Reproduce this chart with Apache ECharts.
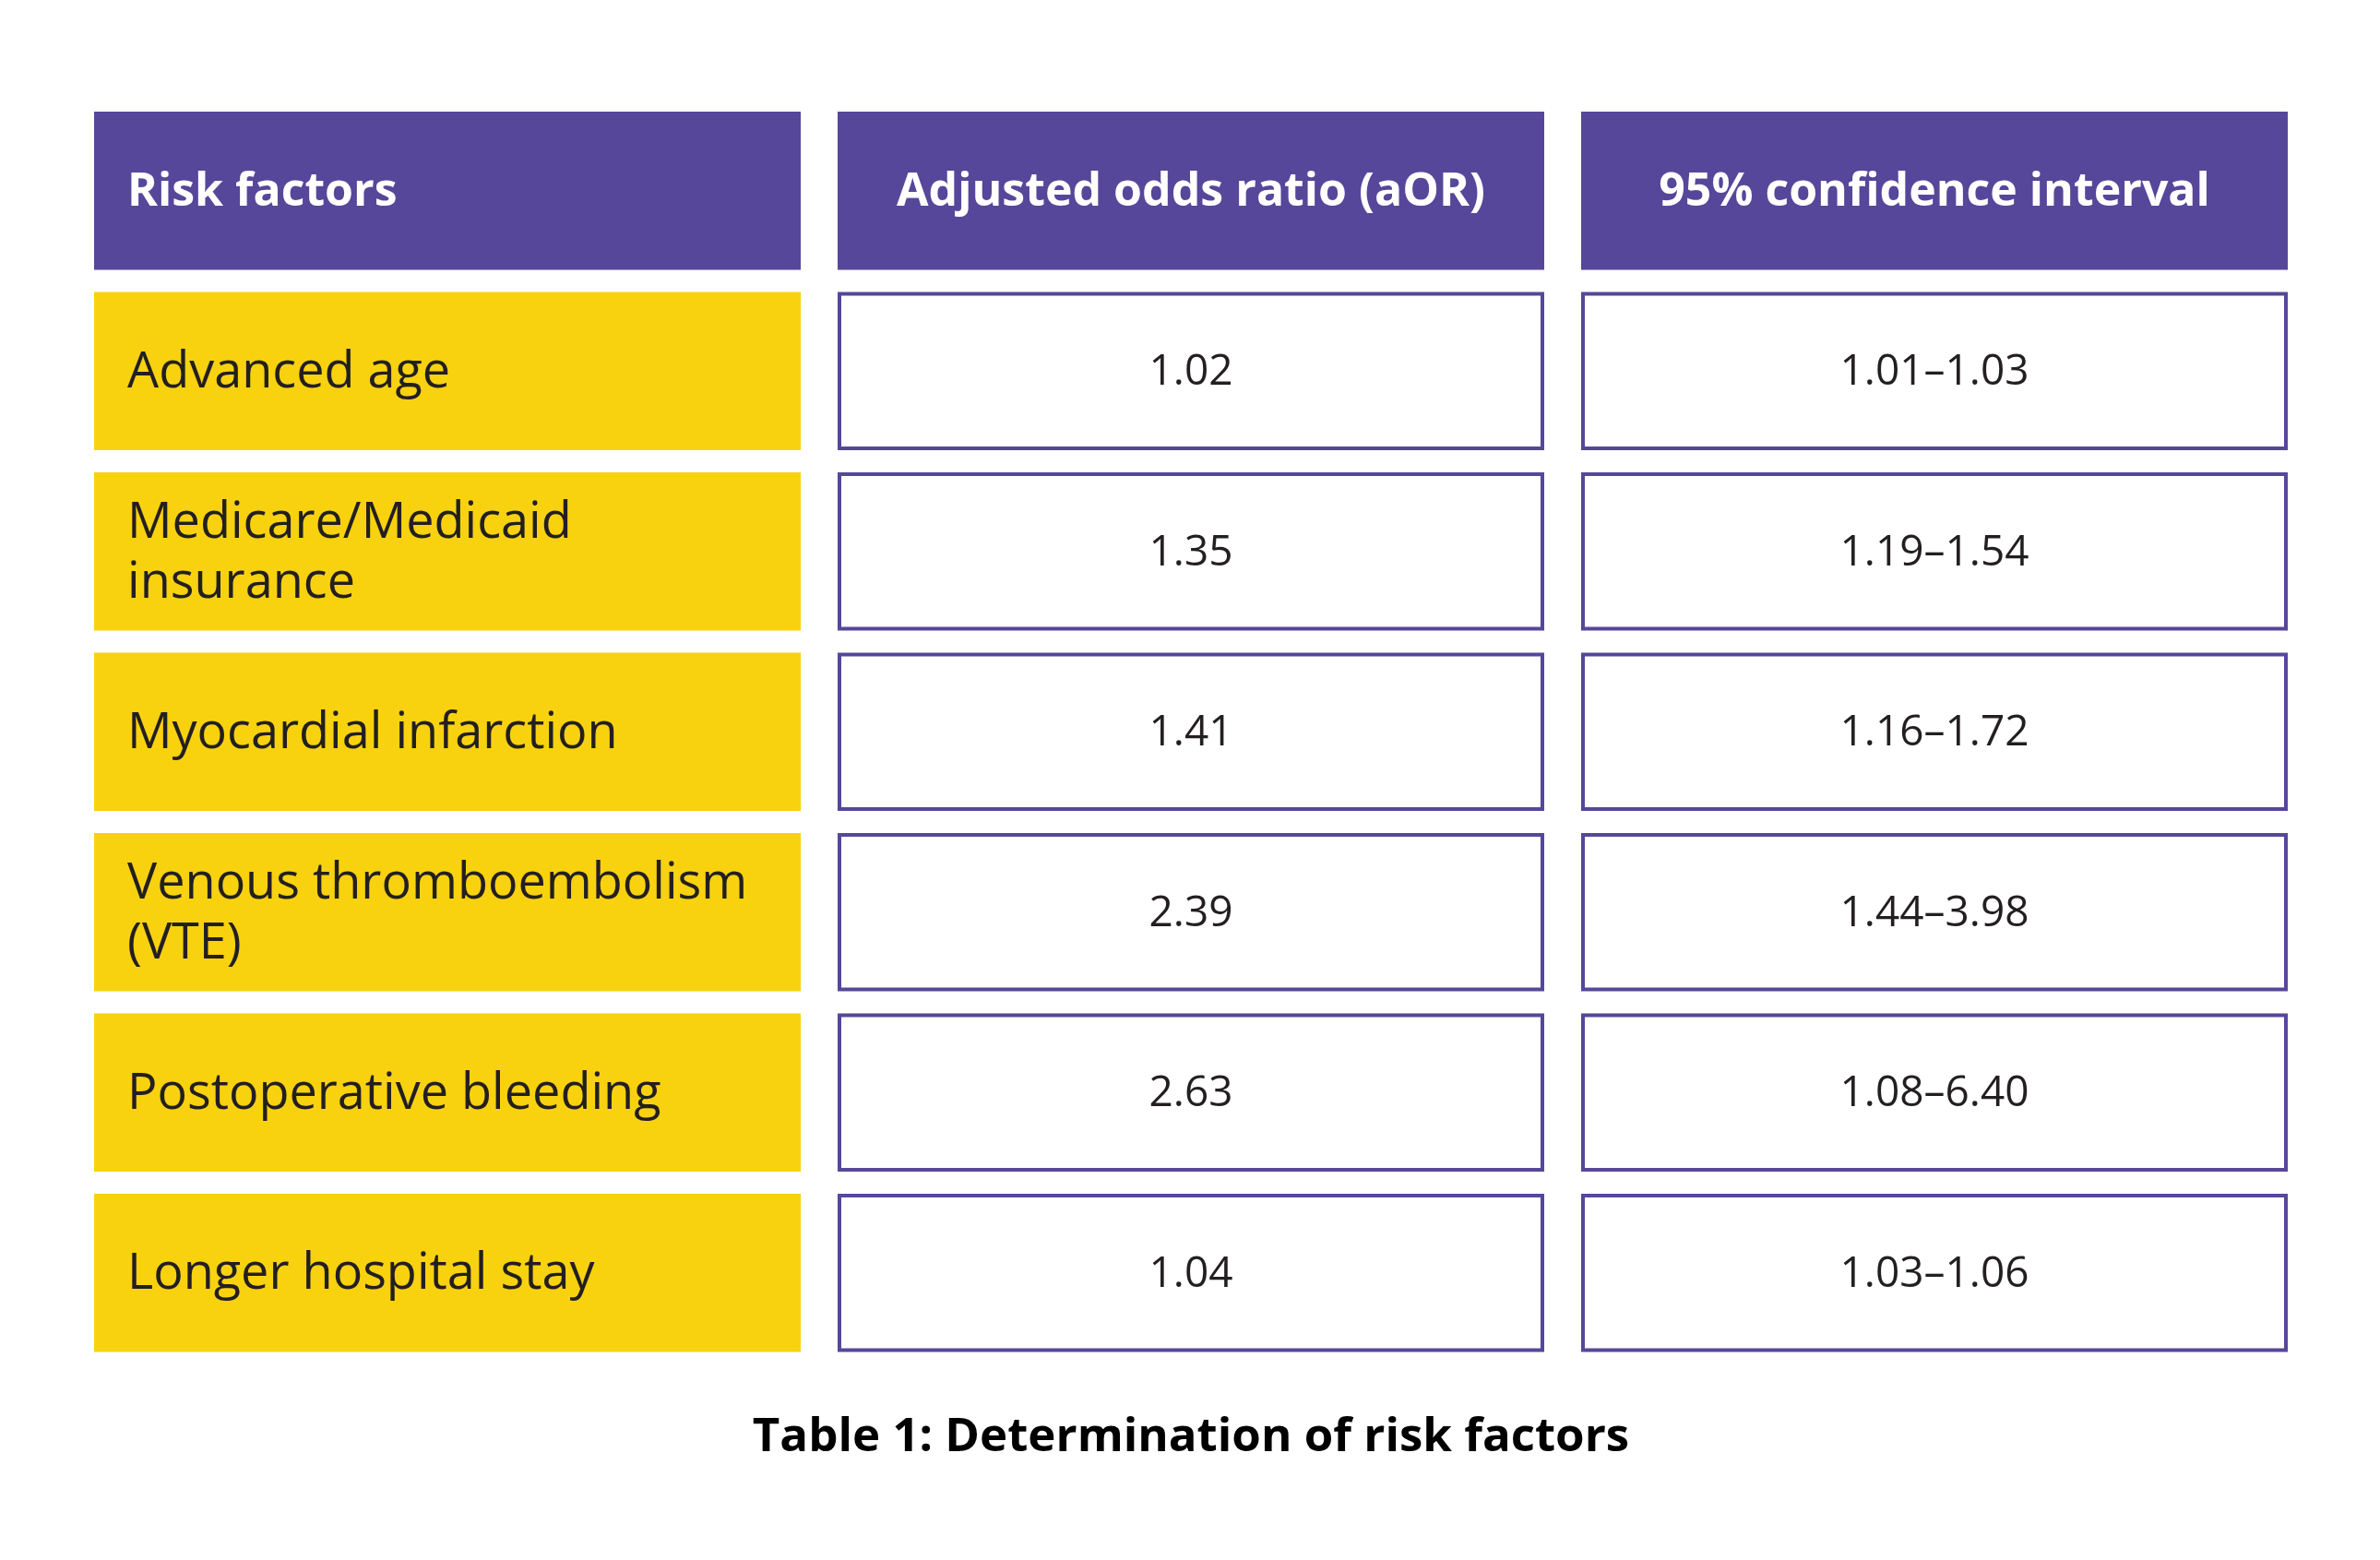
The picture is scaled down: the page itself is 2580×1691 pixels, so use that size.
<!DOCTYPE html>
<html>
<head>
<meta charset="utf-8">
<title>Determination of risk factors</title>
<script src="https://cdn.jsdelivr.net/npm/echarts@6/dist/echarts.min.js"></script>
<style>
  html, body { margin: 0; padding: 0; background: #fff; }
  #chart { width: 2580px; height: 1691px; }
</style>
</head>
<body>
<div id="chart"></div>
<script>
'use strict';

// table content
var headers = ['Risk factors', 'Adjusted odds ratio (aOR)', '95% confidence interval'];
var riskFactors = [
   'Advanced age',
   'Medicare/Medicaid\ninsurance',
   'Myocardial infarction',
   'Venous thromboembolism\n(VTE)',
   'Postoperative bleeding',
   'Longer hospital stay'
];
var aor = [1.02, 1.35, 1.41, 2.39, 2.63, 1.04];
var ciLow = [1.01, 1.19, 1.16, 1.44, 1.08, 1.03];
var ciHigh = [1.03, 1.54, 1.72, 3.98, 6.40, 1.06];
var caption = 'Table 1: Determination of risk factors';

(function () {
   var purple = '#56479a';
   var yellow = '#f8d20f';
   var textColor = '#231f20';
   var gapX = 40;
   var gapY = 24;
   var border = 4;

   var rows = ['header'].concat(riskFactors.map(function (v, i) { return 'r' + i; }));

   // each cell: [column, row, text, kind]
   var cells = [];
   headers.forEach(function (h, c) {
      cells.push([c, 0, h, 'head']);
   });
   riskFactors.forEach(function (name, i) {
      cells.push([0, i + 1, name, 'factor']);
      cells.push([1, i + 1, aor[i].toFixed(2), 'value']);
      cells.push([2, i + 1, ciLow[i].toFixed(2) + '\u2013' + ciHigh[i].toFixed(2), 'value']);
   });

   function fontSizeFor (kind) {
      if (kind === 'head') return 50;
      if (kind === 'value') return 46;
      return 54;
   }

   function renderCell (params, api) {
      var col = api.value(0);
      var row = api.value(1);
      var cell = cells[params.dataIndex];
      var center = api.coord([col, row]);
      var size = api.size([1, 1]);
      var w = size[0] - gapX;
      var h = size[1] - gapY;
      var x0 = center[0] - w / 2;
      var y0 = center[1] - h / 2;
      var kind = cell[3];

      var rect;
      if (kind === 'head') {
         rect = { type: 'rect', shape: { x: x0, y: y0, width: w, height: h }, style: { fill: purple } };
      } else if (kind === 'factor') {
         rect = { type: 'rect', shape: { x: x0, y: y0, width: w, height: h }, style: { fill: yellow } };
      } else {
         rect = {
            type: 'rect',
            shape: { x: x0 + border / 2, y: y0 + border / 2, width: w - border, height: h - border },
            style: { fill: '#fff', stroke: purple, lineWidth: border }
         };
      }

      var leftAligned = col === 0;
      var label = {
         type: 'text',
         style: {
            text: cell[2],
            x: leftAligned ? x0 + 36 : center[0],
            y: center[1] + 2,
            align: leftAligned ? 'left' : 'center',
            verticalAlign: 'middle',
            fill: kind === 'head' ? '#fff' : textColor,
            fontFamily: 'Open Sans',
            fontWeight: kind === 'head' ? 'bold' : 'normal',
            fontSize: fontSizeFor(kind),
            lineHeight: 65
         }
      };

      return { type: 'group', children: [rect, label] };
   }

   var myChart = echarts.init(document.getElementById('chart'));

   var option = {
      backgroundColor: '#fff',
      animation: false,
      grid: { left: 82, top: 109, width: 2418, height: 1368.5 },
      xAxis: {
         type: 'category',
         data: headers,
         show: false
      },
      yAxis: {
         type: 'category',
         data: rows,
         inverse: true,
         show: false
      },
      graphic: [{
         type: 'text',
         x: 1291,
         y: 1558,
         style: {
            text: caption,
            align: 'center',
            verticalAlign: 'middle',
            fill: '#000',
            fontFamily: 'Open Sans',
            fontWeight: 'bold',
            fontSize: 51
         }
      }],
      series: [{
         type: 'custom',
         renderItem: renderCell,
         data: cells.map(function (c) { return [c[0], c[1]]; })
      }]
   };

   myChart.setOption(option);
})();
</script>
</body>
</html>
